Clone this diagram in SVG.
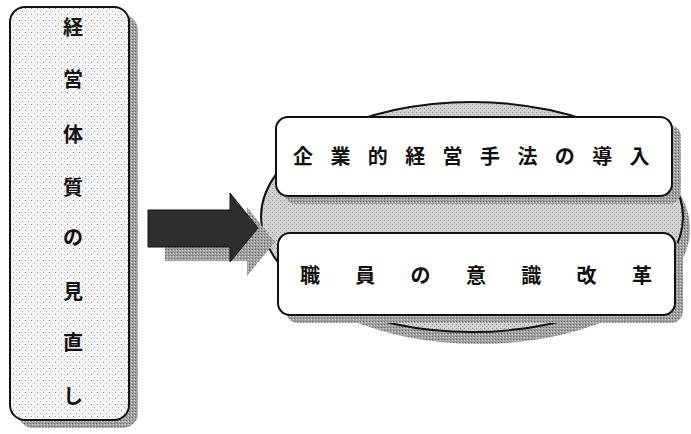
<svg xmlns="http://www.w3.org/2000/svg" width="691" height="434" viewBox="0 0 691 434">
  <defs>
    <pattern id="dots" width="6" height="6" patternUnits="userSpaceOnUse">
      <rect width="6" height="6" fill="#f4f4f4"/>
      <rect x="1" y="2" width="1" height="1" fill="#9a9a9a"/>
      <rect x="4" y="5" width="1" height="1" fill="#b5b5b5"/>
    </pattern>
    <pattern id="grain" width="4" height="4" patternUnits="userSpaceOnUse">
      <rect width="4" height="4" fill="#d2d2d2"/>
      <rect x="0" y="0" width="1" height="1" fill="#8e8e8e"/>
      <rect x="2" y="2" width="1" height="1" fill="#a5a5a5"/>
    </pattern>
    <pattern id="shade" width="3" height="3" patternUnits="userSpaceOnUse">
      <rect width="3" height="3" fill="#a0a0a0"/>
      <rect x="0" y="0" width="1" height="1" fill="#666666"/>
      <rect x="2" y="1" width="1" height="1" fill="#d8d8d8"/>
    </pattern>
  </defs>
  <style>
    .box { stroke: #111; stroke-width: 2; }
    .shadow { fill: url(#shade); }
    .txt { font-family: "Noto Sans CJK JP", "Noto Sans CJK SC", sans-serif; font-size: 20px; font-weight: 600; fill: #111; text-anchor: middle; }
  </style>

  <g id="left-box">
    <rect class="shadow" x="18" y="15" width="120" height="413" rx="15"/>
    <rect class="box" x="10" y="7" width="119" height="413" rx="15" fill="url(#dots)"/>
    <text class="txt" x="73" y="35">経</text>
    <text class="txt" x="73" y="87">営</text>
    <text class="txt" x="73" y="142">体</text>
    <text class="txt" x="73" y="195">質</text>
    <text class="txt" x="73" y="245">の</text>
    <text class="txt" x="73" y="299">見</text>
    <text class="txt" x="73" y="350">直</text>
    <text class="txt" x="73" y="404">し</text>
  </g>

  <g id="ellipse">
    <ellipse class="shadow" cx="479" cy="229" rx="211" ry="115"/>
    <ellipse class="box" cx="472" cy="217" rx="211" ry="115" fill="url(#grain)"/>
  </g>

  <g id="box-1">
    <rect class="shadow" x="284" y="125" width="397" height="79" rx="12"/>
    <rect class="box" x="276" y="117" width="396" height="79" rx="12" fill="#ffffff"/>
    <text class="txt" font-size="19" y="164" x="303 340.4 377.8 415.2 452.6 490 527.4 564.8 602.2 639.6">企業的経営手法の導入</text>
  </g>

  <g id="box-2">
    <rect class="shadow" x="286" y="241" width="397" height="82" rx="12"/>
    <rect class="box" x="278" y="233" width="397" height="82" rx="12" fill="#ffffff"/>
    <text class="txt" font-size="19" y="283" x="310 365.3 420.6 476 531.3 586.6 642">職員の意識改革</text>
  </g>

  <g id="connectors">
    <polygon fill="url(#shade)" points="165,224 247,224 247,207 275,242 247,276 247,261 165,261"/>
    <polygon fill="#2e2e2e" stroke="#111" stroke-width="1" points="148,210 230,210 230,193 258,228 230,262 230,247 148,247"/>
  </g>
</svg>
